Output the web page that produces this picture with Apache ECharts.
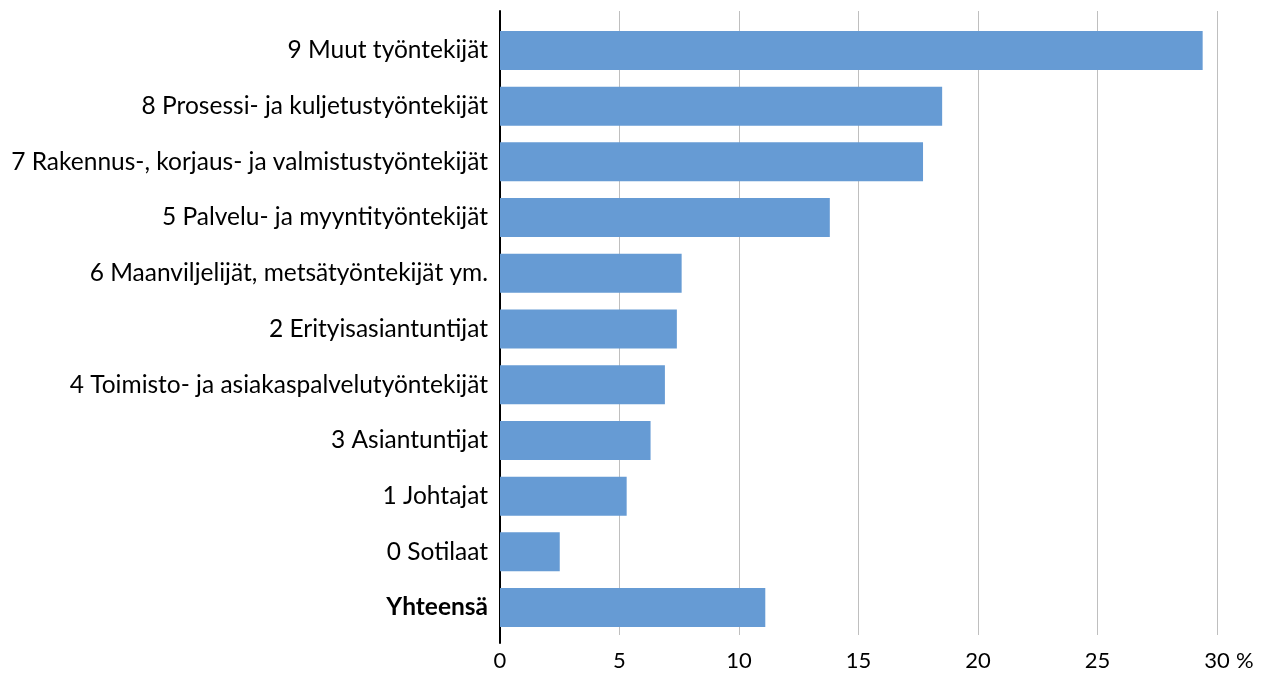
<!DOCTYPE html>
<html><head><meta charset="utf-8">
<script src="https://cdn.jsdelivr.net/npm/echarts@6/dist/echarts.min.js"></script>
<style>html,body{margin:0;padding:0;background:#fff}#c{width:1272px;height:673px}</style>
</head><body><div id="c"></div>
<script>
const categories = [
  "9 Muut työntekijät",
  "8 Prosessi- ja kuljetustyöntekijät",
  "7 Rakennus-, korjaus- ja valmistustyöntekijät",
  "5 Palvelu- ja myyntityöntekijät",
  "6 Maanviljelijät, metsätyöntekijät ym.",
  "2 Erityisasiantuntijat",
  "4 Toimisto- ja asiakaspalvelutyöntekijät",
  "3 Asiantuntijat",
  "1 Johtajat",
  "0 Sotilaat",
  "Yhteensä"
];
const values = [29.4, 18.5, 17.7, 13.8, 7.6, 7.4, 6.9, 6.3, 5.3, 2.5, 11.1];
const xTicks = { min: 0, max: 30, interval: 5 };
const unitLabel = "%";

const FONT = "Lato";
const chart = echarts.init(document.getElementById('c'));
chart.setOption({
  animation: false,
  grid: [
    { left: 500, right: 55, top: 22.6, bottom: 37.6 },
    { left: 500, right: 55, top: 11, bottom: 38 },
    { left: 500, right: 55, top: 11, bottom: 30 }
  ],
  xAxis: [
    { gridIndex: 0, type: 'value', min: xTicks.min, max: xTicks.max, interval: xTicks.interval,
      axisLine: { show: false }, axisTick: { show: false }, splitLine: { show: false },
      axisLabel: { fontFamily: FONT, fontSize: 22, color: '#000', margin: 15 },
      name: unitLabel, nameLocation: 'end', nameGap: 19,
      nameTextStyle: { fontFamily: FONT, fontSize: 22, color: '#000', verticalAlign: 'top', padding: [15, 0, 0, 0] } },
    { gridIndex: 1, type: 'value', min: xTicks.min, max: xTicks.max, interval: xTicks.interval,
      axisLine: { show: false }, axisTick: { show: false }, axisLabel: { show: false },
      splitLine: { show: true, lineStyle: { color: '#BFBFBF', width: 1 } } },
    { gridIndex: 2, type: 'value', min: 0, max: 1, show: false }
  ],
  yAxis: [
    { gridIndex: 0, type: 'category', inverse: true, data: categories,
      axisLine: { show: false }, axisTick: { show: false },
      axisLabel: { fontFamily: FONT, fontSize: 24.5, color: '#000', margin: 12,
        formatter: v => v === "Yhteensä" ? '{b|' + v + '}' : v,
        rich: { b: { fontFamily: FONT, fontSize: 24.5, fontWeight: 'bold', color: '#000' } } } },
    { gridIndex: 1, type: 'value', show: false },
    { gridIndex: 2, type: 'value', min: 0, max: 1,
      axisLine: { show: true, onZero: false, lineStyle: { color: '#000', width: 2 } },
      axisTick: { show: false }, axisLabel: { show: false }, splitLine: { show: false } }
  ],
  series: [{
    type: 'bar', xAxisIndex: 0, yAxisIndex: 0, data: values,
    barCategoryGap: '30%', itemStyle: { color: '#669BD4' }
  }]
});
</script></body></html>
